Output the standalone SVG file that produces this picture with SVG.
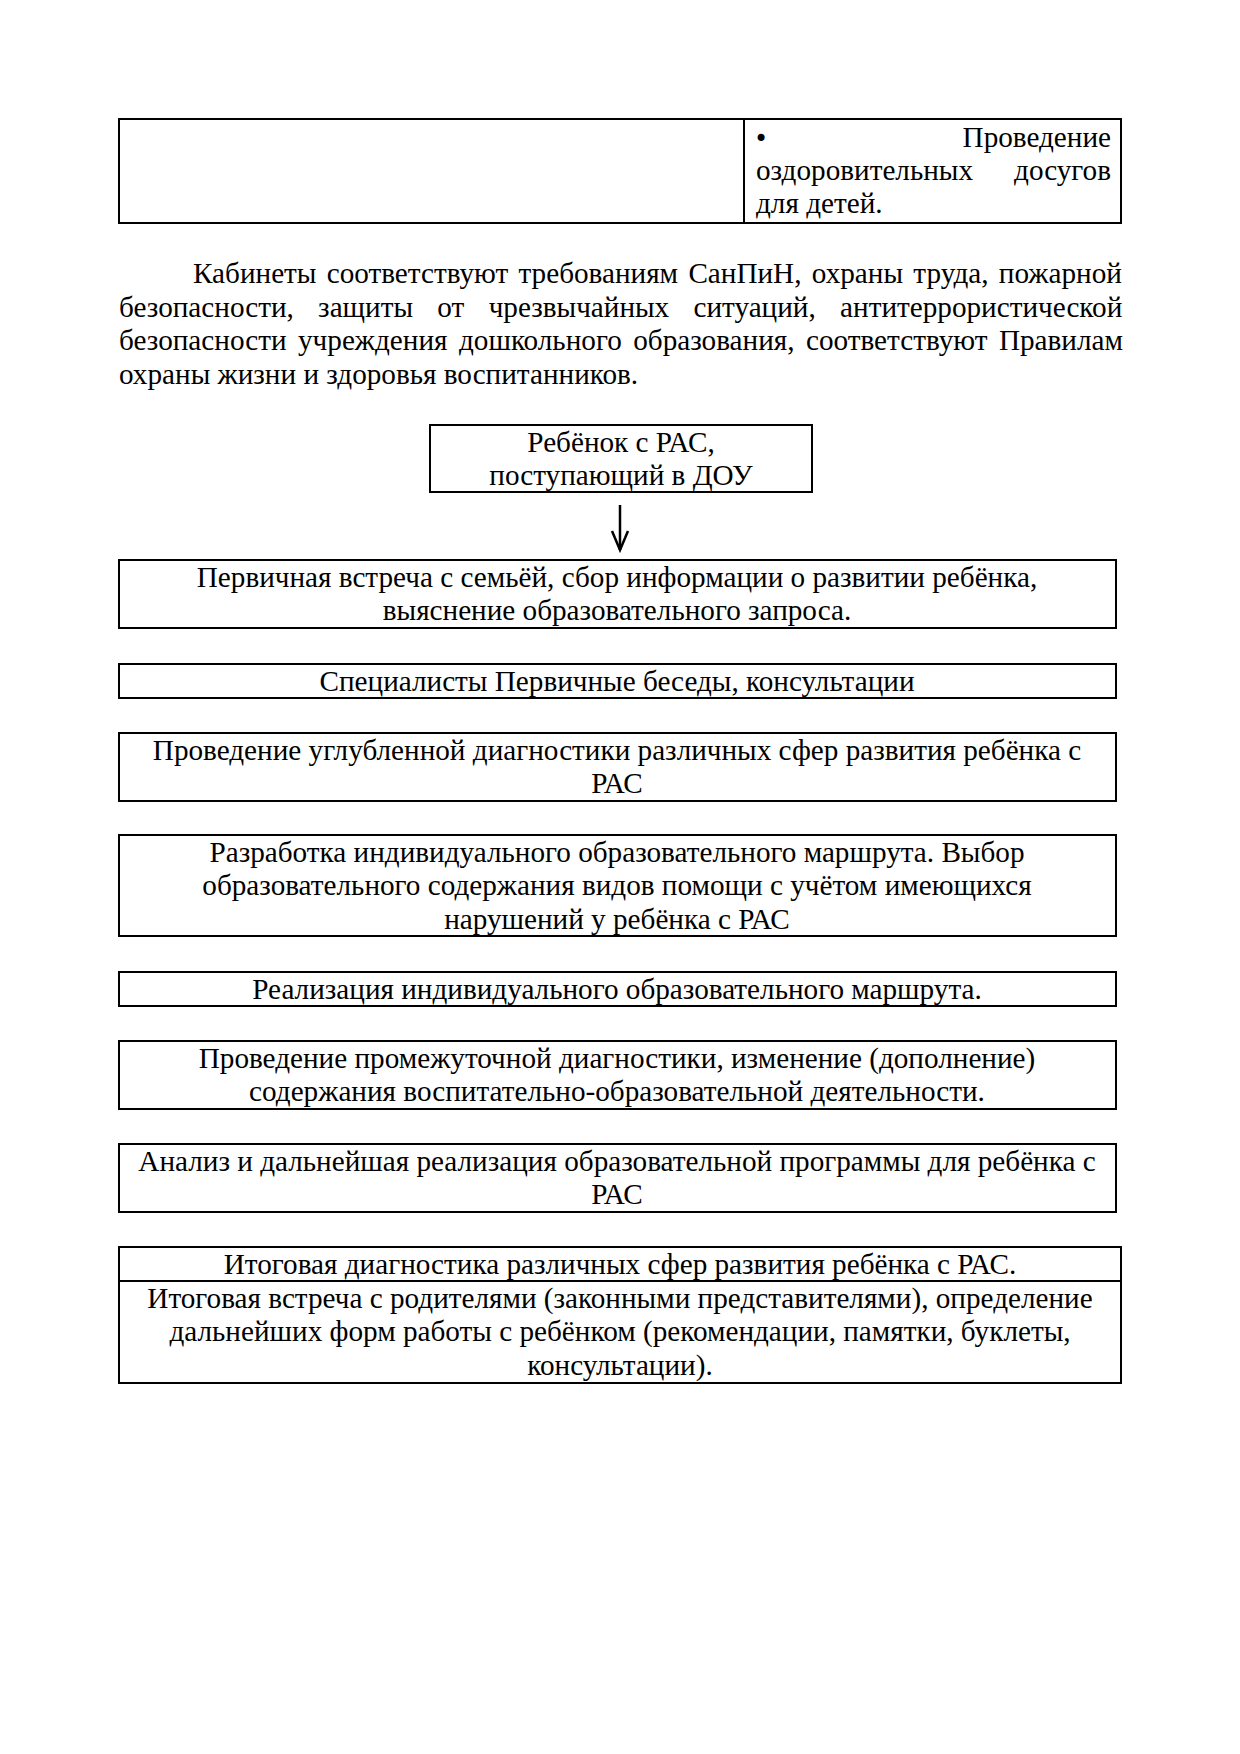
<svg xmlns="http://www.w3.org/2000/svg" width="1240" height="1754" viewBox="0 0 1240 1754">
<defs>
<style>
.b{fill:none;stroke:#000;stroke-width:2}
text{font-family:"Liberation Serif","Times New Roman",serif;font-size:29.2px;fill:#000}
.c{text-anchor:middle}
.e{text-anchor:end}
.bul{font-family:"DejaVu Sans",sans-serif;font-size:24px}
</style>
<marker id="ah" markerUnits="userSpaceOnUse" markerWidth="24" markerHeight="22" viewBox="-2 -2 24 22" refX="19" refY="8" orient="auto">
<path d="M0,0 L19,8 L0,16" fill="none" stroke="#000" stroke-width="2.5"/>
</marker>
</defs>
<rect width="1240" height="1754" fill="#fff"/>

<g id="top-table">
<rect class="b" x="119" y="119" width="1002" height="104"/>
<line class="b" x1="744" y1="119" x2="744" y2="223"/>
<text class="bul" x="754" y="147">•</text>
<text class="e" x="1111" y="147">Проведение</text>
<text x="756" y="180">оздоровительных</text>
<text class="e" x="1111" y="180">досугов</text>
<text x="756" y="213">для детей.</text>
</g>

<g id="paragraph">
<text x="193" y="283" style="word-spacing:3px">Кабинеты соответствуют требованиям СанПиН, охраны труда, пожарной</text>
<text x="119" y="316.5" style="word-spacing:17px">безопасности, защиты от чрезвычайных ситуаций, антитеррористической</text>
<text x="119" y="350" style="word-spacing:4.2px">безопасности учреждения дошкольного образования, соответствуют Правилам</text>
<text x="119" y="383.5">охраны жизни и здоровья воспитанников.</text>
</g>

<g id="n0">
<rect class="b" x="430" y="425" width="382" height="67"/>
<text class="c" x="621" y="451.5">Ребёнок с РАС,</text>
<text class="c" x="621" y="485">поступающий в ДОУ</text>
</g>

<g id="connectors">
<line x1="620" y1="505" x2="620" y2="550" stroke="#000" stroke-width="2.5" marker-end="url(#ah)"/>
</g>

<g id="n1">
<rect class="b" x="119" y="560" width="997" height="68"/>
<text class="c" x="617" y="586.5">Первичная встреча с семьёй, сбор информации о развитии ребёнка,</text>
<text class="c" x="617" y="620">выяснение образовательного запроса.</text>
</g>

<g id="n2">
<rect class="b" x="119" y="664" width="997" height="34"/>
<text class="c" x="617" y="690.5">Специалисты Первичные беседы, консультации</text>
</g>

<g id="n3">
<rect class="b" x="119" y="733" width="997" height="68"/>
<text class="c" x="617" y="759.5">Проведение углубленной диагностики различных сфер развития ребёнка с</text>
<text class="c" x="617" y="793">РАС</text>
</g>

<g id="n4">
<rect class="b" x="119" y="835" width="997" height="101"/>
<text class="c" x="617" y="861.5">Разработка индивидуального образовательного маршрута. Выбор</text>
<text class="c" x="617" y="895">образовательного содержания видов помощи с учётом имеющихся</text>
<text class="c" x="617" y="928.5">нарушений у ребёнка с РАС</text>
</g>

<g id="n5">
<rect class="b" x="119" y="972" width="997" height="34"/>
<text class="c" x="617" y="998.5">Реализация индивидуального образовательного маршрута.</text>
</g>

<g id="n6">
<rect class="b" x="119" y="1041" width="997" height="68"/>
<text class="c" x="617" y="1067.5">Проведение промежуточной диагностики, изменение (дополнение)</text>
<text class="c" x="617" y="1101">содержания воспитательно-образовательной деятельности.</text>
</g>

<g id="n7">
<rect class="b" x="119" y="1144" width="997" height="68"/>
<text class="c" x="617" y="1170.5">Анализ и дальнейшая реализация образовательной программы для ребёнка с</text>
<text class="c" x="617" y="1204">РАС</text>
</g>

<g id="n8">
<rect class="b" x="119" y="1247" width="1002" height="136"/>
<line class="b" x1="119" y1="1281" x2="1121" y2="1281"/>
<text class="c" x="620" y="1273.5">Итоговая диагностика различных сфер развития ребёнка с РАС.</text>
<text class="c" x="620" y="1307.5">Итоговая встреча с родителями (законными представителями), определение</text>
<text class="c" x="620" y="1341">дальнейших форм работы с ребёнком (рекомендации, памятки, буклеты,</text>
<text class="c" x="620" y="1374.5">консультации).</text>
</g>
</svg>
